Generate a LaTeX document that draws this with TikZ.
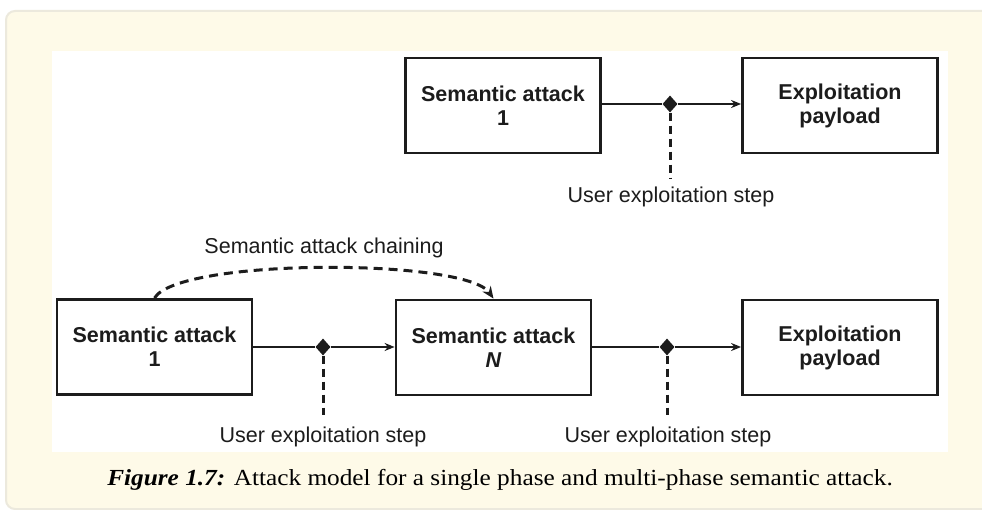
\documentclass[tikz,border=0pt]{standalone}
\usepackage{fontspec}
\setmainfont{Liberation Serif}
\newfontfamily\arialf{Liberation Sans}
\newfontfamily\capfont[FakeStretch=1.1]{Liberation Serif}
\usetikzlibrary{shapes.geometric,arrows.meta}
\definecolor{cream}{HTML}{FEFAE8}
\definecolor{panelrim}{HTML}{ECE9DD}
\definecolor{ink}{HTML}{1C1C1C}
\tikzset{
  box/.style={draw=ink, line width=2.8pt, minimum width=195pt, minimum height=95pt, inner sep=0pt,
    align=center, text=ink, font=\arialf\bfseries\fontsize{21.5}{24}\selectfont},
  junction/.style={diamond, fill=ink, draw=none, minimum width=15pt, minimum height=17pt, inner sep=0pt},
  flow/.style={draw=ink, line width=2.3pt, -{Stealth[length=10pt,width=8pt]}},
  plain/.style={draw=ink, line width=2.3pt},
  userstep/.style={draw=ink, line width=3pt, dash pattern=on 8pt off 5pt},
  chain/.style={draw=ink, line width=3pt, dash pattern=on 9pt off 6pt, -{Stealth[length=12pt,width=10pt,open,line width=2.4pt]}},
  lbl/.style={text=ink, font=\arialf\fontsize{21.5}{24}\selectfont, inner sep=0pt}
}
\begin{document}
\begin{tikzpicture}[x=1pt,y=-1pt]
\useasboundingbox (0,0) rectangle (982,510);
% background
\fill[white] (0,0) rectangle (982,510);
\draw[panelrim, line width=2pt, fill=cream, rounded corners=9pt] (6,11) rectangle (1000,509);
\fill[white] (52,51) rectangle (948,452);

% top row
\node[box] (t1) at (503,105.5) {Semantic attack\\1};
\node[box] (t2) at (840,105.5) {Exploitation\\payload};
\node[junction] (tj) at (670,104) {};
\draw[plain] (t1.east |- tj) -- (tj);
\draw[flow] (tj) -- (t2.west |- tj);
\coordinate (tend) at (670,179);
\draw[userstep] (tj.south) -- (tend);
\node[lbl] (tl) at (671,197) {User exploitation step};

% bottom row
\node[box] (b1) at (154.5,347) {Semantic attack\\1};
\node[box] (bn) at (493.5,347.5) {Semantic attack\\\textit{N}};
\node[box] (b3) at (840,347.5) {Exploitation\\payload};
\node[junction] (bj1) at (323,347) {};
\node[junction] (bj2) at (667,347) {};
\draw[plain] (b1.east |- bj1) -- (bj1);
\draw[flow] (bj1) -- (bn.west |- bj1);
\draw[plain] (bn.east |- bj2) -- (bj2);
\draw[flow] (bj2) -- (b3.west |- bj2);
\coordinate (bend1) at (323,415);
\coordinate (bend2) at (667,415);
\draw[userstep] (bj1.south) -- (bend1);
\draw[userstep] (bj2.south) -- (bend2);
\node[lbl] (bl1) at (323,437) {User exploitation step};
\node[lbl] (bl2) at (668,437) {User exploitation step};

% chaining
\draw[chain] (b1.north) .. controls (178,258) and (465,258) .. (bn.north);
\node[lbl] (cl) at (324,248) {Semantic attack chaining};

% caption
\node[anchor=base, inner sep=0pt, text=black, font=\capfont\fontsize{23}{26}\selectfont] (cap) at (500,485)
  {\textbf{\textit{Figure 1.7:}} Attack model for a single phase and multi-phase semantic attack.};
\end{tikzpicture}
\end{document}
